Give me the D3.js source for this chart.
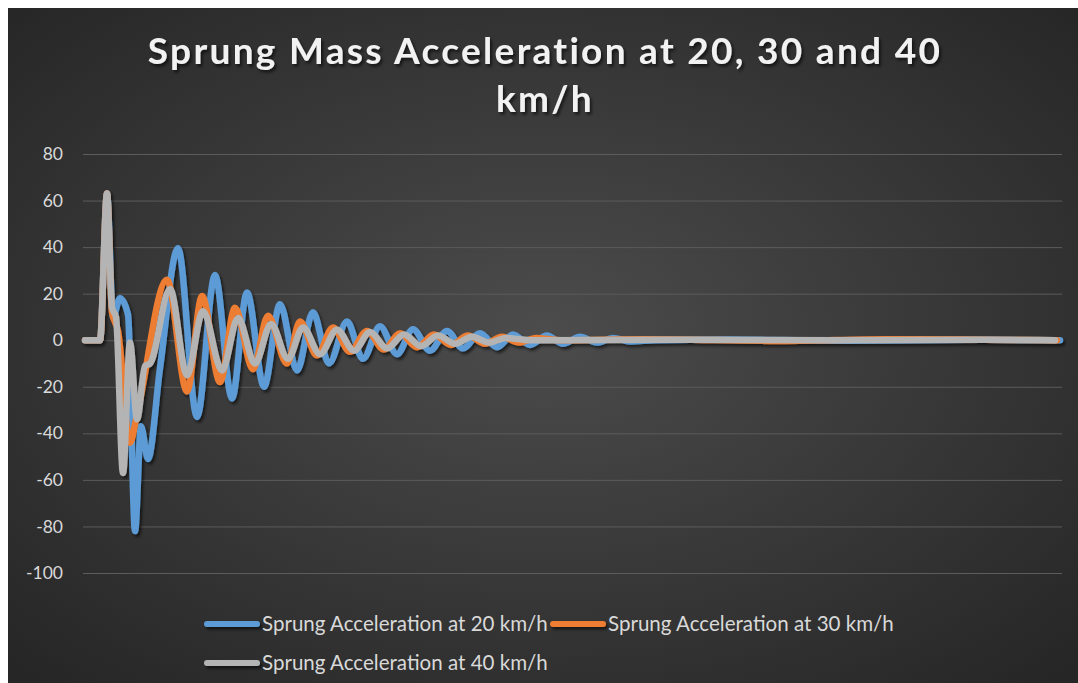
<!DOCTYPE html>
<html>
<head>
<meta charset="utf-8">
<script src="https://cdn.jsdelivr.net/npm/d3@7"></script>
<style>
  html, body { margin: 0; padding: 0; background: #ffffff; }
  svg { display: block; }
</style>
</head>
<body>
<div id="chart"></div>
<script>
// turning points: sample step along the run and acceleration
var steps20 = [0, 15, 22, 28, 35, 43, 50, 56, 63, 75, 93, 112, 130, 147, 162, 179, 195, 212, 228, 244,
	262, 278, 295, 312, 328, 345, 362, 378, 395, 412, 428, 445, 462, 478, 495, 512, 528, 545, 570, 640,
	760, 880, 975];
var accel20 = [0, 0, 63, 10, 18, 11, -82, -37, -51, -12, 39.5, -33, 28, -25, 20.5, -20, 15.5, -13, 12, -10,
	8, -8, 6, -6, 4.7, -4.5, 4, -3.5, 3, -3, 2.5, -2, 2, -1.5, 1.5, -1, 1, -0.5, 0, 0.3,
	-0.2, 0.2, 0];

var steps30 = [0, 15, 22, 27, 33, 45, 52, 82, 102, 117, 135, 150, 168, 183, 202, 215, 232, 248, 265, 282,
	299, 315, 332, 349, 366, 383, 400, 417, 434, 451, 475, 560, 700, 800, 880, 972];
var accel30 = [0, 0, 63, 12, 4, -44, -32, 26, -22, 19, -18, 14, -12.5, 10.5, -10, 8, -6.5, 5.5, -5, 4,
	-4, 3, -3, 2.5, -2, 2, -1.5, 1.5, -1, 1, 0, 0.4, -0.3, 0.4, 0.3, 0];

var steps40 = [0, 15, 22, 27, 31, 38, 45, 52, 60, 65, 85, 102, 118, 137, 153, 170, 186, 203, 218, 235,
	252, 269, 285, 302, 319, 336, 353, 370, 387, 404, 421, 445, 600, 750, 900, 970];
var accel40 = [0, 0, 63, 14, 10, -57, -1, -34, -11, -10, 22, -15, 12.5, -13, 9.5, -10, 7, -8, 5.5, -6,
	4.5, -4.5, 3.5, -3.5, 2.5, -2.5, 2, -1.5, 1.5, -1, 1, 0, 0.2, 0, 0.2, 0];

var yTicks = [80, 60, 40, 20, 0, -20, -40, -60, -80, -100];
var seriesNames = ["Sprung Acceleration at 20 km/h", "Sprung Acceleration at 30 km/h", "Sprung Acceleration at 40 km/h"];
var seriesColors = ["#5b9bd5", "#ed7d31", "#b4b4b4"];
var titleLines = ["Sprung Mass Acceleration at 20, 30 and 40", "km/h"];

var width = 1078, height = 683;
var font = "Lato, 'Open Sans', sans-serif";

var svg = d3.select("#chart").append("svg")
	.attr("width", width)
	.attr("height", height);

var defs = svg.append("defs");
var grad = defs.append("radialGradient")
	.attr("id", "bg")
	.attr("cx", "50%").attr("cy", "48%").attr("r", "70%");
grad.append("stop").attr("offset", "0%").attr("stop-color", "#4c4c4c");
grad.append("stop").attr("offset", "100%").attr("stop-color", "#262626");

var shadow = defs.append("filter")
	.attr("id", "shadow")
	.attr("filterUnits", "userSpaceOnUse")
	.attr("x", 0).attr("y", 0).attr("width", width).attr("height", height);
shadow.append("feDropShadow")
	.attr("dx", 2).attr("dy", 2.5)
	.attr("stdDeviation", 1.6)
	.attr("flood-color", "#000")
	.attr("flood-opacity", 0.6);

svg.append("rect")
	.attr("x", 8).attr("y", 8)
	.attr("width", width - 8).attr("height", height - 8)
	.attr("fill", "url(#bg)");

var x = d3.scaleLinear().domain([0, 975]).range([85, 1060]);
var y = d3.scaleLinear().domain([-100, 80]).range([573, 154]);

// gridlines + labels
var yAxis = d3.axisLeft(y)
	.tickValues(yTicks)
	.tickFormat(function(d) { return String(d); })
	.tickSize(-(1062 - 83))
	.tickPadding(20);
var yax = svg.append("g")
	.attr("transform", "translate(83,0)")
	.call(yAxis);
yax.select(".domain").remove();
yax.selectAll(".tick line")
	.attr("stroke", "#5c5c5c")
	.attr("stroke-width", 1);
yax.selectAll(".tick text")
	.attr("fill", "#d9d9d9")
	.style("font-family", font)
	.style("font-size", "17.5px");

var line = d3.line()
	.x(function(d) { return x(d[0]); })
	.y(function(d) { return y(d[1]); })
	.curve(d3.curveMonotoneX);

var series = [
	d3.zip(steps20, accel20),
	d3.zip(steps30, accel30),
	d3.zip(steps40, accel40)
];

var lines = svg.append("g").attr("filter", "url(#shadow)");
series.forEach(function(s, i) {
	lines.append("path")
		.datum(s)
		.attr("d", line)
		.attr("fill", "none")
		.attr("stroke", seriesColors[i])
		.attr("stroke-width", 6.5)
		.attr("stroke-linejoin", "round")
		.attr("stroke-linecap", "round");
});

// title, spaced out to the width of the original
var title = svg.append("g").attr("filter", "url(#shadow)");
var t1 = title.append("text")
	.attr("x", 545).attr("y", 64)
	.attr("text-anchor", "middle")
	.attr("fill", "#f2f2f2")
	.style("font-family", font)
	.style("font-weight", 700)
	.style("font-size", "37px")
	.text(titleLines[0]);
var spacing = Math.max(0, (795 - t1.node().getComputedTextLength()) / titleLines[0].length);
t1.style("letter-spacing", spacing + "px");
title.append("text")
	.attr("x", 545).attr("y", 112)
	.attr("text-anchor", "middle")
	.attr("fill", "#f2f2f2")
	.style("font-family", font)
	.style("font-weight", 700)
	.style("font-size", "37px")
	.style("letter-spacing", spacing + "px")
	.text(titleLines[1]);

// legend
var legend = svg.append("g");
var probe = legend.append("text")
	.style("font-family", font)
	.style("font-size", "18px")
	.text(seriesNames[0]);
var lfs = 18 * 286 / probe.node().getComputedTextLength();
probe.remove();

var legendPos = [[207, 624], [553, 624], [207, 663]];
seriesNames.forEach(function(name, i) {
	var p = legendPos[i];
	legend.append("line")
		.attr("x1", p[0]).attr("x2", p[0] + 50)
		.attr("y1", p[1]).attr("y2", p[1])
		.attr("stroke", seriesColors[i])
		.attr("stroke-width", 6)
		.attr("stroke-linecap", "round")
		.attr("filter", "url(#shadow)");
	legend.append("text")
		.attr("x", p[0] + 55).attr("y", p[1])
		.attr("dy", "0.35em")
		.attr("fill", "#d9d9d9")
		.style("font-family", font)
		.style("font-size", lfs + "px")
		.text(name);
});
</script>
</body>
</html>
